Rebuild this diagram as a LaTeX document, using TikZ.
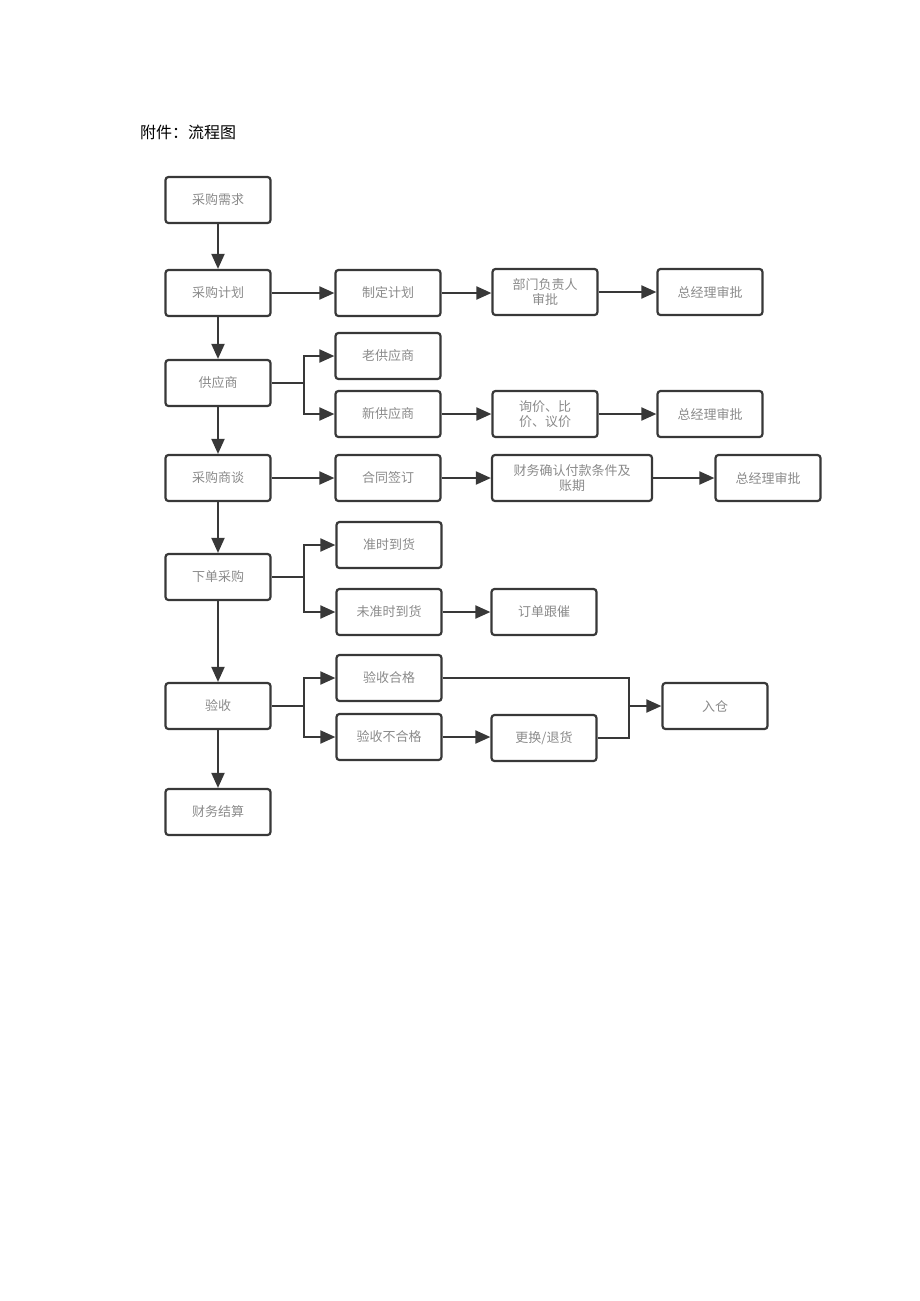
\documentclass[tikz,border=0pt]{standalone}
\usepackage{fontspec}
\setmainfont{Noto Sans CJK SC}
\usepackage{tikz}
\usetikzlibrary{arrows.meta}

\definecolor{boxline}{HTML}{383838}
\definecolor{boxtext}{HTML}{8A8A8A}
\tikzset{
  stepbox/.style={draw=boxline, line width=2.2pt, rounded corners=3pt,
    minimum width=105pt, minimum height=46pt, inner sep=2pt,
    align=center, text=boxtext, font=\fontsize{13}{15.5}\selectfont},
  widebox/.style={stepbox, minimum width=160pt},
  arr/.style={draw=boxline, line width=2pt, -{Triangle[length=15pt,width=13pt]}},
  lin/.style={draw=boxline, line width=2pt}
}

\begin{document}
\begin{tikzpicture}[x=1pt, y=-1pt]
        \useasboundingbox (0, 0) rectangle (920, 1301);
        \node[font=\fontsize{16}{18}\selectfont] (title) at (188, 132) {附件：流程图};
        % main column
        \node[stepbox] (xq) at (218, 200) {采购需求};
        \node[stepbox] (jh) at (218, 293) {采购计划};
        \node[stepbox] (gys) at (218, 383) {供应商};
        \node[stepbox] (st) at (218, 478) {采购商谈};
        \node[stepbox] (xd) at (218, 577) {下单采购};
        \node[stepbox] (ys) at (218, 706) {验收};
        \node[stepbox] (js) at (218, 812) {财务结算};
        % second column
        \node[stepbox] (zd) at (388, 293) {制定计划};
        \node[stepbox] (lao) at (388, 356) {老供应商};
        \node[stepbox] (xin) at (388, 414) {新供应商};
        \node[stepbox] (ht) at (388, 478) {合同签订};
        \node[stepbox] (zs) at (389, 545) {准时到货};
        \node[stepbox] (wzs) at (389, 612) {未准时到货};
        \node[stepbox] (hg) at (389, 678) {验收合格};
        \node[stepbox] (bhg) at (389, 737) {验收不合格};
        % third column
        \node[stepbox] (bm) at (545, 292) {部门负责人\\审批};
        \node[stepbox] (xj) at (545, 414) {询价、比\\价、议价};
        \node[widebox] (cw) at (572, 478) {财务确认付款条件及\\账期};
        \node[stepbox] (gc) at (544, 612) {订单跟催};
        \node[stepbox] (gh) at (544, 738) {更换/退货};
        % fourth column
        \node[stepbox] (zj1) at (710, 292) {总经理审批};
        \node[stepbox] (zj2) at (710, 414) {总经理审批};
        \node[stepbox] (zj3) at (768, 478) {总经理审批};
        \node[stepbox] (rc) at (715, 706) {入仓};
        % vertical flow
        \foreach \a/\b in {xq/jh, jh/gys, gys/st, st/xd, xd/ys, ys/js}
        \draw[arr] (\a) -- (\b);
        % horizontal flow
        \foreach \a/\b in {jh/zd, zd/bm, bm/zj1, xin/xj, xj/zj2, st/ht, ht/cw, cw/zj3, wzs/gc, bhg/gh}
        \draw[arr] (\a.east) -- (\a.east -| \b.west);
        % forks
        \foreach \s/\u/\d in {gys/lao/xin, xd/zs/wzs, ys/hg/bhg}{
          \draw[lin] (\s.east) -- ++(32, 0) coordinate (f\s);
          \draw[arr] (f\s) |- (\u.west);
          \draw[arr] (f\s) |- (\d.west);};
        % merge into 入仓
        \coordinate (m) at (629, 706);
        \draw[lin] (hg.east) -| (m);
        \draw[lin] (gh.east) -| (m);
        \draw[arr] (m) -- (rc.west);
      \end{tikzpicture}
\end{document}
